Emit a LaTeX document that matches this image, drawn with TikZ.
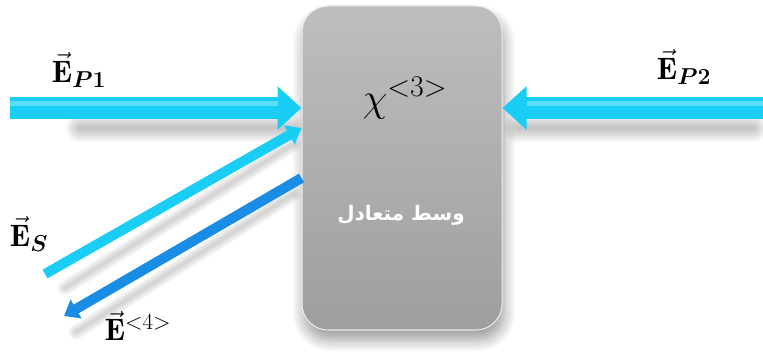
\RequirePackage{fix-cm}
\documentclass[tikz,border=0pt]{standalone}
\usepackage{amsmath,amssymb,bm}
\usepackage{fontspec}
\newfontfamily\arabicfont[Script=Arabic]{DejaVu Sans}
\TeXXeTstate=1
\DeclareMathSizes{31}{31}{23}{17}
\DeclareMathSizes{40}{40}{30}{22}
\usetikzlibrary{arrows.meta,calc,shadows.blur}
\definecolor{beam}{RGB}{25,205,245}
\definecolor{beamlight}{RGB}{120,230,255}
\definecolor{beamdark}{RGB}{25,140,230}
\definecolor{boxtop}{RGB}{190,190,190}
\definecolor{boxbot}{RGB}{158,158,158}
\tikzset{
  x=1pt,y=-1pt,
  medium/.style={rounded corners=26pt, minimum width=200pt, minimum height=324pt,
     top color=boxtop, bottom color=boxbot, draw=white!85!gray, line width=1pt,
     blur shadow={shadow xshift=2pt, shadow yshift=-10pt, shadow blur radius=12pt, shadow blur steps=12, shadow opacity=40}},
  bigbeam/.style={line width=22pt, draw=beam, -{Triangle[length=24pt,width=42pt]}},
  thinbeam/.style={line width=10pt, -{Triangle[length=14pt,width=21pt]}},
  beamshadow/.style={line width=#1, draw=black, opacity=0.035, line cap=round},
  lbl/.style={inner sep=0pt, font=\fontsize{31}{36}\selectfont},
}
\begin{document}
\begin{tikzpicture}
\useasboundingbox (0,0) rectangle (763,363);
% medium
\node[medium] (m) at (402,168) {};
\node[inner sep=0pt, font=\fontsize{40}{44}\selectfont] (chi) at (405,98) {$\chi^{<3>}$};
\node[inner sep=0pt, text=white, font=\arabicfont\bfseries\fontsize{20}{24}\selectfont] (ar) at (401,215) {\beginR وسط متعادل\endR};
% coordinates
\coordinate (p1s) at (10,108);
\coordinate (p2s) at (763,108);
\coordinate (ss) at (45,274);
\coordinate (e4) at (64,316);
\coordinate (st) at ($(m.west)+(0,-40)$);
\coordinate (e4s) at ($(m.west)+(0,10)$);
% shadows
\foreach \w in {4,8,12,16,20,24,28}{
  \draw[beamshadow=\w pt] ($(p1s)+(70,20)$) -- ($(p1s -| m.west)+(-12,20)$);
  \draw[beamshadow=\w pt] ($(p2s -| m.east)+(15,20)$) -- ($(p2s)+(-10,20)$);
}
\foreach \w in {3,6,9,12,15}{
  \draw[beamshadow=\w pt] ($(ss)+(20,14)$) -- ($(st)+(-8,16)$);
  \draw[beamshadow=\w pt] ($(e4)+(12,16)$) -- ($(e4s)+(-8,16)$);
}
% beams
\draw[bigbeam] (p1s) -- (p1s -| m.west);
\draw[line width=5pt, draw=beamlight, opacity=0.7, shorten >=24pt] ($(p1s)+(0,-4)$) -- ($(p1s -| m.west)+(0,-4)$);
\draw[bigbeam] (p2s) -- (p2s -| m.east);
\draw[line width=5pt, draw=beamlight, opacity=0.7, shorten >=24pt] ($(p2s)+(0,-4)$) -- ($(p2s -| m.east)+(0,-4)$);
\draw[thinbeam, draw=beam] (ss) -- (st);
\draw[thinbeam, draw=beamdark] (e4s) -- (e4);
% labels
\node[lbl] (lp1) at (79,70) {$\vec{\mathbf{E}}_{\bm{P1}}$};
\node[lbl] (lp2) at (684,67) {$\vec{\mathbf{E}}_{\bm{P2}}$};
\node[lbl] (ls) at (29,234) {$\vec{\mathbf{E}}_{\bm{S}}$};
\node[lbl] (l4) at (138,326) {$\vec{\mathbf{E}}^{<4>}$};
\end{tikzpicture}
\end{document}
